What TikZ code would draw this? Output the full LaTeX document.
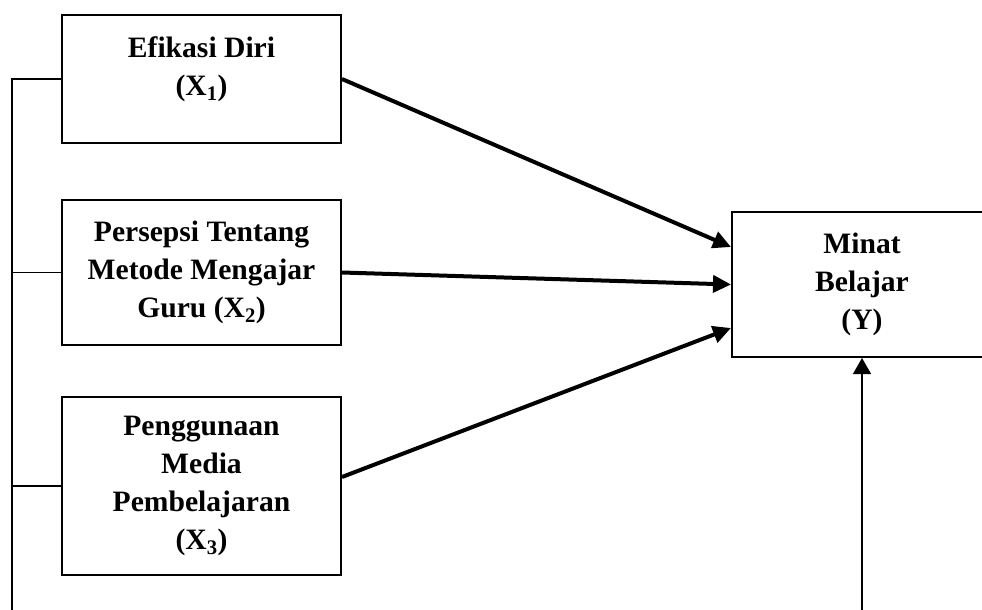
\documentclass[tikz,border=0pt]{standalone}
\usepackage{fontspec}
\setmainfont{Liberation Serif}
\usetikzlibrary{arrows.meta,calc}

\begin{document}
\begin{tikzpicture}[x=1pt,y=-1pt,
  box/.style={rectangle, draw, line width=2pt, inner sep=0pt, align=center, minimum width=279pt,
    font=\fontsize{29.6}{38}\selectfont\bfseries},
  link/.style={line width=4pt, -{Triangle[length=18pt,width=17pt]}},
  thin/.style={line width=1.5pt}]

                \useasboundingbox (0,0) rectangle (982,610);

                \node[box,minimum height=128pt] (X1) at (201.5,79) {Efikasi Diri\\(X\textsubscript{1})\\[-12pt]\mbox{}};
                \node[box,minimum height=145pt] (X2) at (201.5,272.5) {Persepsi Tentang\\Metode Mengajar\\Guru (X\textsubscript{2})};
                \node[box,minimum height=178pt] (X3) at (201.5,486) {Penggunaan\\Media\\Pembelajaran\\(X\textsubscript{3})};
                \node[box,minimum width=260pt,minimum height=145pt] (Y) at (862,284.5) {Minat\\Belajar\\(Y)};

                \coordinate (lft) at (12,610);
                \coordinate (rgt) at (862,610);

                \draw[link] (X1.east) -- ([yshift=37.5pt]Y.west);
                \draw[link] (X2.east) -- (Y.west);
                \draw[link] ([yshift=9pt]X3.east) -- ([yshift=-43.5pt]Y.west);

                \draw[thin] (X1.west) -| (lft);
                \draw[thin] (X2.west) -- (X2.west -| lft);
                \draw[thin] (X3.west) -- (X3.west -| lft);

                \draw[thin,-{Triangle[length=16pt,width=18pt]}] (rgt) -- (Y.south);

            \end{tikzpicture}
\end{document}
